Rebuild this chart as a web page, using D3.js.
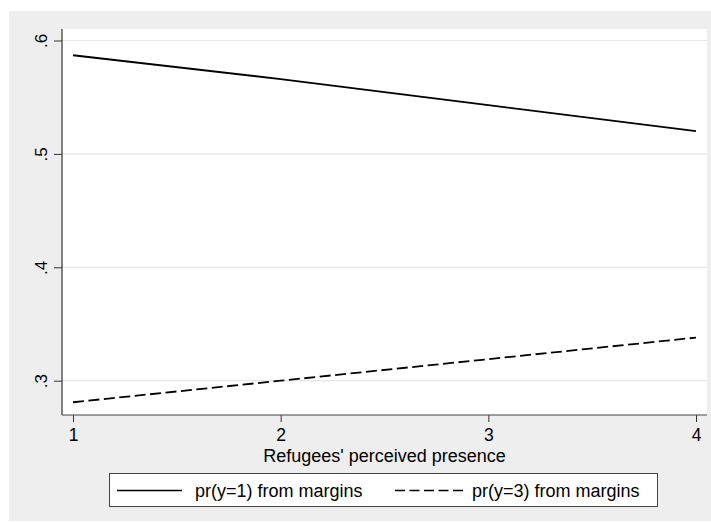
<!DOCTYPE html>
<html>
<head>
<meta charset="utf-8">
<script src="https://cdn.jsdelivr.net/npm/d3@7"></script>
<style>
html,body{margin:0;padding:0;background:#ffffff;}
svg{display:block;}
text{font-family:"Liberation Sans",Arial,Helvetica,sans-serif;fill:#000;}
</style>
</head>
<body>
<svg id="chart" width="711" height="522"></svg>
<script>
// ---- data ----
const xValues = [1, 2, 3, 4];
const pr1 = [0.587, 0.566, 0.543, 0.520];
const pr3 = [0.281, 0.300, 0.319, 0.338];
const xTicks = [1, 2, 3, 4];
const yTicks = [0.3, 0.4, 0.5, 0.6];
const yTickLabels = [".3", ".4", ".5", ".6"];
const seriesNames = ["pr(y=1) from margins", "pr(y=3) from margins"];
const xTitle = "Refugees' perceived presence";

// ---- layout ----
const W = 711, H = 522;
const svg = d3.select("#chart");
const plot = {left: 62, right: 707, top: 29, bottom: 415};

svg.append("rect").attr("x", 9).attr("y", 11).attr("width", W - 9).attr("height", 510)
  .attr("fill", "#eeeeee");
svg.append("rect").attr("x", plot.left).attr("y", plot.top)
  .attr("width", plot.right - plot.left).attr("height", plot.bottom - plot.top)
  .attr("fill", "#ffffff");

const x = d3.scaleLinear().domain([1, 4]).range([73, 696]);
const y = d3.scaleLinear().domain([0.3, 0.6]).range([380.7, 40.5]);

// gridlines
svg.append("g").selectAll("line").data(yTicks).join("line")
  .attr("x1", plot.left).attr("x2", plot.right)
  .attr("y1", d => y(d)).attr("y2", d => y(d))
  .attr("stroke", "#e6e6e6").attr("stroke-width", 1.2);

// y axis
const yAxis = d3.axisLeft(y).tickValues(yTicks).tickSize(8).tickSizeOuter(0)
  .tickFormat((d, i) => yTickLabels[i]);
const gy = svg.append("g").attr("transform", `translate(${plot.left},0)`).call(yAxis);
gy.select(".domain").remove();
gy.selectAll(".tick line").attr("stroke", "#333").attr("stroke-width", 1);
gy.selectAll(".tick text")
  .attr("x", 0).attr("y", 0).attr("dy", 0)
  .attr("transform", "translate(-15,0) rotate(-90)")
  .attr("text-anchor", "middle")
  .style("font-size", "17px")
  .style("font-family", "'Liberation Sans', Arial, sans-serif");
svg.append("line").attr("x1", plot.left).attr("x2", plot.left)
  .attr("y1", plot.top).attr("y2", plot.bottom)
  .attr("stroke", "#333").attr("stroke-width", 1.2);

// x axis
const xAxis = d3.axisBottom(x).tickValues(xTicks).tickSize(7).tickSizeOuter(0)
  .tickFormat(d3.format("d"));
const gx = svg.append("g").attr("transform", `translate(0,${plot.bottom})`).call(xAxis);
gx.select(".domain").remove();
gx.selectAll(".tick line").attr("stroke", "#333").attr("stroke-width", 1);
gx.selectAll(".tick text")
  .attr("y", 26).attr("dy", 0)
  .style("font-size", "17.5px")
  .style("font-family", "'Liberation Sans', Arial, sans-serif");
svg.append("line").attr("x1", plot.left).attr("x2", plot.right)
  .attr("y1", plot.bottom).attr("y2", plot.bottom)
  .attr("stroke", "#444").attr("stroke-width", 1.2);

svg.append("text").attr("x", (plot.left + plot.right) / 2).attr("y", 461.5)
  .attr("text-anchor", "middle").style("font-size", "18px").text(xTitle);

// lines
const line = d3.line().x((d, i) => x(xValues[i])).y(d => y(d));
svg.append("path").datum(pr1).attr("d", line)
  .attr("fill", "none").attr("stroke", "#000").attr("stroke-width", 1.8);
svg.append("path").datum(pr3).attr("d", line)
  .attr("fill", "none").attr("stroke", "#000").attr("stroke-width", 1.8)
  .attr("stroke-dasharray", "11,4.5");

// legend
const lg = svg.append("g");
lg.append("rect").attr("x", 109.5).attr("y", 473.5).attr("width", 548).attr("height", 33)
  .attr("fill", "#fff").attr("stroke", "#444").attr("stroke-width", 1);
const legendItems = [
  {name: seriesNames[0], x1: 117, x2: 182, tx: 195, dash: null},
  {name: seriesNames[1], x1: 395, x2: 465, tx: 472, dash: "10,4.5"}
];
legendItems.forEach(it => {
  lg.append("line").attr("x1", it.x1).attr("x2", it.x2).attr("y1", 490.5).attr("y2", 490.5)
    .attr("stroke", "#000").attr("stroke-width", 1.6)
    .attr("stroke-dasharray", it.dash);
  lg.append("text").attr("x", it.tx).attr("y", 497).style("font-size", "18px").text(it.name);
});
</script>
</body>
</html>
